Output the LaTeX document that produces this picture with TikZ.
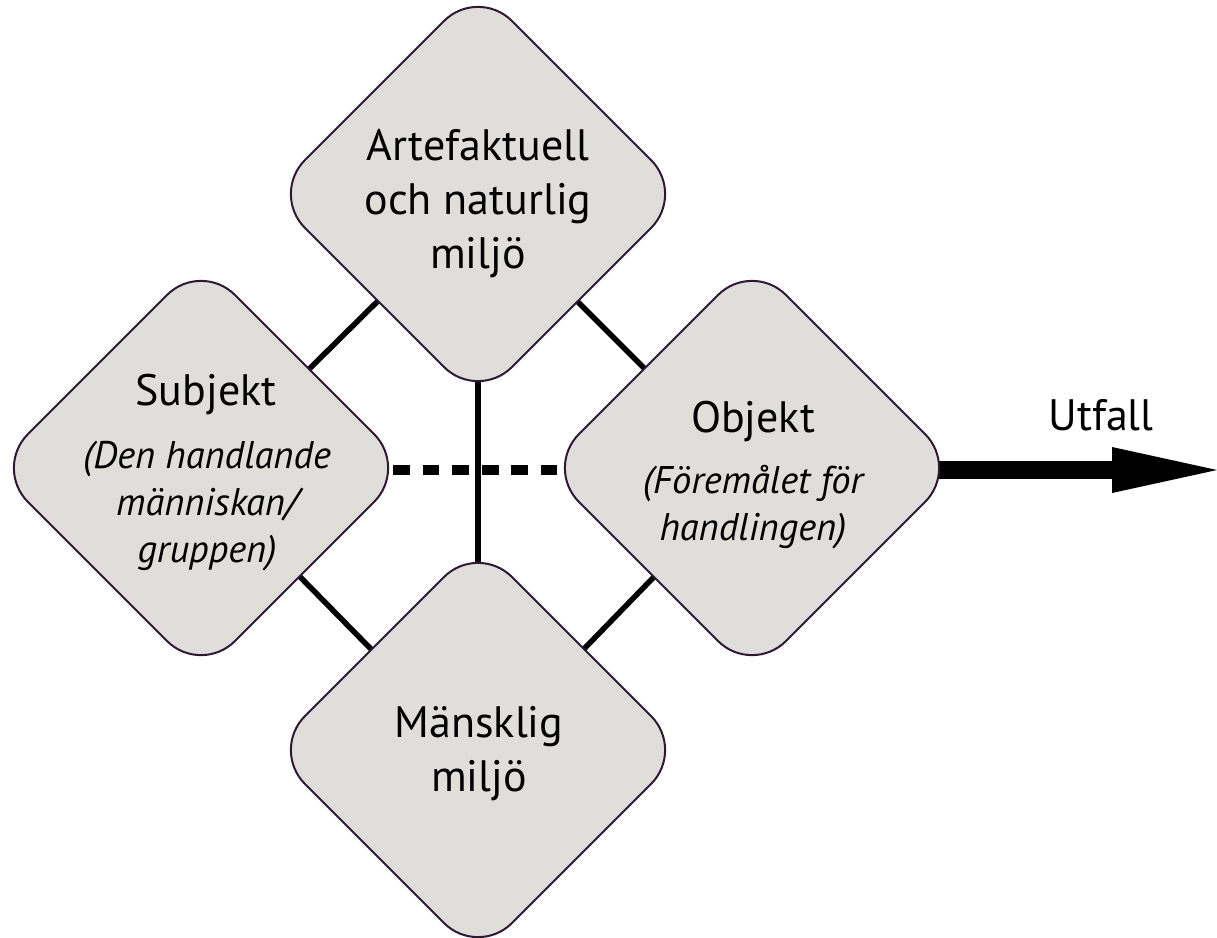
\documentclass[tikz,border=0pt]{standalone}
\usepackage{fontspec}
\setmainfont{PT Sans}
\usetikzlibrary{shapes.geometric,arrows.meta,backgrounds}
\definecolor{boxfill}{RGB}{223,222,218}
\definecolor{boxline}{RGB}{45,26,50}
\tikzset{
  dia/.style={shape=diamond, aspect=1, minimum width=414pt, minimum height=414pt,
    inner sep=0pt, outer sep=0pt, rounded corners=48pt, fill=boxfill, draw=boxline, line width=2pt},
  title/.style={font=\fontsize{44}{54}\selectfont, align=center, inner sep=0pt},
  sub/.style={font=\fontsize{38.5}{47}\selectfont\itshape, align=center, inner sep=0pt},
  link/.style={line width=5.5pt, black},
  dashlink/.style={line width=9.5pt, black, dash pattern=on 16.7pt off 12.9pt},
  outarrow/.style={line width=18pt, black, -{Triangle[length=105pt,width=46pt,line width=0pt]}}
}
\begin{document}
\begin{tikzpicture}[x=1pt,y=-1pt]
\useasboundingbox (0,0) rectangle (1217,937);
\node[dia] (top) at (478,194) {};
\node[dia] (left) at (201,468) {};
\node[dia] (right) at (752,468) {};
\node[dia] (bottom) at (478,750) {};
\node[title] (ttop) at (478,204) {Artefaktuell\\och naturlig\\miljö};
\node[title, anchor=base] (tleft) at (206,405) {Subjekt};
\node[sub] (sleft) at (207,506) {(Den handlande\\människan/\\gruppen)};
\node[title, anchor=base] (tright) at (753,432) {Objekt};
\node[sub] (sright) at (753,507) {(Föremålet för\\handlingen)};
\node[title] (tbottom) at (479,754) {Mänsklig\\miljö};
\node[title, anchor=base] (utfall) at (1101,430) {Utfall};
\coordinate (out) at (1217,470);
\begin{scope}[on background layer]
\draw[link] ([yshift=-8pt]left.center) -- ([yshift=-8pt]top.center);
\draw[link] ([yshift=-8pt]top.center) -- ([yshift=-8pt]right.center);
\draw[link] ([yshift=-8pt]left.center) -- ([yshift=-8pt]bottom.center);
\draw[link] ([yshift=-8pt]right.center) -- ([yshift=-8pt]bottom.center);
\draw[link] (top.center) -- (bottom.center);
\draw[dashlink] ([xshift=-15pt,yshift=-2pt]left.east) -- ([xshift=12pt,yshift=-2pt]right.west);
\draw[outarrow] ([yshift=-2pt]right.center) -- (out);
\end{scope}
\end{tikzpicture}
\end{document}
